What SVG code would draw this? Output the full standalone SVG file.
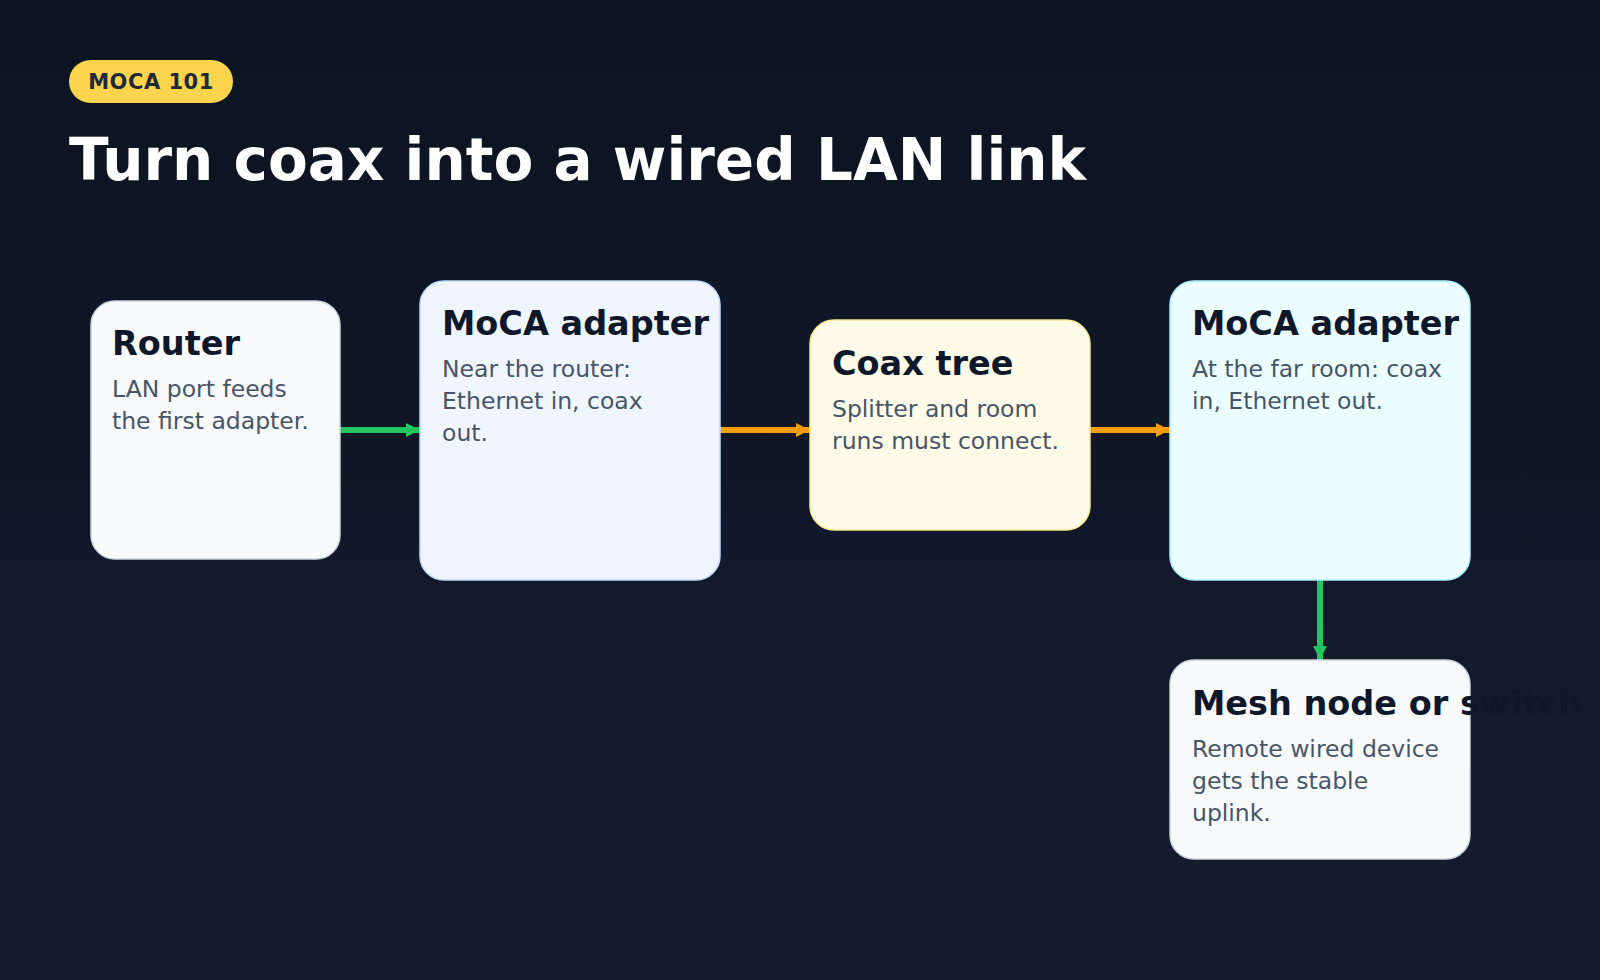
<svg xmlns="http://www.w3.org/2000/svg" width="1600" height="980" viewBox="0 0 1600 980">
<defs>
<linearGradient id="bg" x1="0" y1="0" x2="0" y2="1"><stop offset="0" stop-color="#0c1321"/><stop offset="1" stop-color="#141d30"/></linearGradient>
<marker id="ag" viewBox="0 0 10 10" refX="10" refY="5" markerWidth="15" markerHeight="14" markerUnits="userSpaceOnUse" orient="auto"><path d="M0,0L10,5L0,10z" fill="#22c55e"/></marker>
<marker id="ao" viewBox="0 0 10 10" refX="10" refY="5" markerWidth="15" markerHeight="14" markerUnits="userSpaceOnUse" orient="auto"><path d="M0,0L10,5L0,10z" fill="#f59e0b"/></marker>
</defs>
<style>
text{font-family:"DejaVu Sans",sans-serif}
.h{font-size:33.5px;font-weight:bold;fill:#0f172a}
.b{font-size:23.5px;fill:#475569}
.n{stroke-width:1.5}
</style>
<rect width="1600" height="980" fill="url(#bg)"/>
<rect x="69" y="60" width="164" height="43" rx="21.5" fill="#fcd34d"/>
<text x="151" y="89" text-anchor="middle" font-size="21" font-weight="bold" fill="#1f2937" letter-spacing="0.5">MOCA 101</text>
<text x="69" y="180" font-size="58" font-weight="bold" fill="#ffffff">Turn coax into a wired LAN link</text>
<g id="connectors" stroke-width="6" fill="none">
<line x1="340" y1="430" x2="420" y2="430" stroke="#22c55e" marker-end="url(#ag)"/>
<line x1="720" y1="430" x2="810" y2="430" stroke="#f59e0b" marker-end="url(#ao)"/>
<line x1="1090" y1="430" x2="1170" y2="430" stroke="#f59e0b" marker-end="url(#ao)"/>
<line x1="1320" y1="580" x2="1320" y2="660" stroke="#22c55e" marker-end="url(#ag)"/>
</g>
<g id="router"><rect class="n" x="91" y="301" width="249" height="258" rx="24" fill="#f8fafc" stroke="#cbd5e1"/>
<text class="h" x="112" y="355">Router</text>
<text class="b" x="112" y="397">LAN port feeds</text><text class="b" x="112" y="429">the first adapter.</text></g>
<g id="moca1"><rect class="n" x="420" y="281" width="300" height="299" rx="24" fill="#eff6ff" stroke="#bfdbfe"/>
<text class="h" x="442" y="335">MoCA adapter</text>
<text class="b" x="442" y="377">Near the router:</text><text class="b" x="442" y="409">Ethernet in, coax</text><text class="b" x="442" y="441">out.</text></g>
<g id="coax"><rect class="n" x="810" y="320" width="280" height="210" rx="24" fill="#fefce8" stroke="#fde68a"/>
<text class="h" x="832" y="375">Coax tree</text>
<text class="b" x="832" y="417">Splitter and room</text><text class="b" x="832" y="449">runs must connect.</text></g>
<g id="moca2"><rect class="n" x="1170" y="281" width="300" height="299" rx="24" fill="#ecfeff" stroke="#a5f3fc"/>
<text class="h" x="1192" y="335">MoCA adapter</text>
<text class="b" x="1192" y="377">At the far room: coax</text><text class="b" x="1192" y="409">in, Ethernet out.</text></g>
<g id="mesh"><rect class="n" x="1170" y="660" width="300" height="199" rx="24" fill="#f8fafc" stroke="#cbd5e1"/>
<text class="h" x="1192" y="715">Mesh node or switch</text>
<text class="b" x="1192" y="757">Remote wired device</text><text class="b" x="1192" y="789">gets the stable</text><text class="b" x="1192" y="821">uplink.</text></g>
</svg>
